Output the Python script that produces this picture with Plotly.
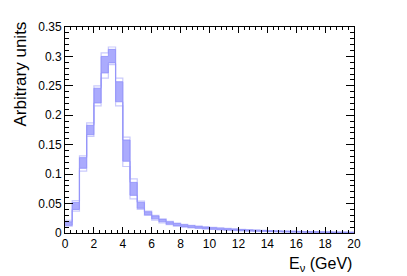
import plotly.graph_objects as go

# bin edges (GeV), 0.5 GeV bins from 0 to 20
bin_lo = [i * 0.5 for i in range(40)]
bin_hi_edge = 20.0

# outer envelope (outlier universes) and dense core of universes, per bin
env_lo = [0.0115, 0.037, 0.105, 0.164, 0.216, 0.263, 0.286, 0.216, 0.113, 0.058,
          0.040, 0.030, 0.022, 0.017, 0.014, 0.0115, 0.0100, 0.0088, 0.0077, 0.0068,
          0.0060, 0.0053, 0.0047, 0.0042, 0.0037, 0.0033, 0.0029, 0.0026, 0.0023, 0.0021,
          0.0018, 0.0016, 0.0014, 0.0013, 0.0011, 0.0010, 0.0009, 0.0008, 0.0007, 0.0006]
core_lo = [0.013, 0.040, 0.110, 0.167, 0.221, 0.272, 0.289, 0.223, 0.122, 0.064,
           0.042, 0.031, 0.024, 0.019, 0.015, 0.0125, 0.0108, 0.0095, 0.0083, 0.0073,
           0.0065, 0.0058, 0.0051, 0.0046, 0.0041, 0.0036, 0.0032, 0.0029, 0.0026, 0.0023,
           0.0020, 0.0018, 0.0016, 0.0014, 0.0013, 0.0011, 0.0010, 0.0009, 0.0008, 0.0007]
core_hi = [0.019, 0.052, 0.128, 0.183, 0.246, 0.300, 0.312, 0.257, 0.158, 0.086,
           0.052, 0.036, 0.029, 0.023, 0.019, 0.016, 0.0140, 0.0125, 0.0112, 0.0100,
           0.0090, 0.0081, 0.0073, 0.0066, 0.0059, 0.0053, 0.0048, 0.0043, 0.0039, 0.0035,
           0.0031, 0.0028, 0.0025, 0.0023, 0.0021, 0.0019, 0.0017, 0.0015, 0.0014, 0.0012]
env_hi = [0.0217, 0.055, 0.131, 0.187, 0.250, 0.306, 0.316, 0.263, 0.163, 0.092,
          0.054, 0.037, 0.030, 0.024, 0.020, 0.017, 0.0148, 0.0132, 0.0118, 0.0106,
          0.0095, 0.0086, 0.0078, 0.0070, 0.0063, 0.0057, 0.0051, 0.0046, 0.0042, 0.0038,
          0.0034, 0.0031, 0.0028, 0.0025, 0.0023, 0.0021, 0.0019, 0.0017, 0.0015, 0.0014]

x_ticks = [0, 2, 4, 6, 8, 10, 12, 14, 16, 18, 20]
y_ticks = [0, 0.05, 0.1, 0.15, 0.2, 0.25, 0.3, 0.35]
y_ticktext = ["0", "0.05", "0.1", "0.15", "0.2", "0.25", "0.3", "0.35"]


def steps(vals):
    return bin_lo + [bin_hi_edge], list(vals) + [vals[-1]]


fig = go.Figure()
xs, ys = steps(core_lo)
fig.add_trace(go.Scatter(x=xs, y=ys, mode="lines", line=dict(shape="hv", width=1, color="rgba(145,145,250,0.85)"),
                         hoverinfo="skip", showlegend=False))
xs, ys = steps(core_hi)
fig.add_trace(go.Scatter(x=xs, y=ys, mode="lines", line=dict(shape="hv", width=1, color="rgba(145,145,250,0.85)"),
                         fill="tonexty", fillcolor="rgba(150,150,252,0.8)", hoverinfo="skip", showlegend=False))
for env in (env_lo, env_hi):
    xs, ys = steps(env)
    fig.add_trace(go.Scatter(x=xs, y=ys, mode="lines", line=dict(shape="hv", width=1.2, color="rgba(150,150,250,0.5)"),
                             hoverinfo="skip", showlegend=False))

font = "Liberation Sans, Arial, sans-serif"
fig.update_layout(
    width=407, height=276,
    margin=dict(l=65, r=53, t=27, b=42.5),
    paper_bgcolor="white", plot_bgcolor="white",
    font=dict(family=font, size=12, color="black"),
    showlegend=False,
    xaxis=dict(range=[0, 20], tickvals=x_ticks, ticks="inside", ticklen=6, tickcolor="black",
               showline=True, linecolor="black", linewidth=1, mirror="ticks", showgrid=False, zeroline=False,
               minor=dict(dtick=0.4, ticks="inside", ticklen=3, tickcolor="black"),
               tickfont=dict(size=12)),
    yaxis=dict(range=[0, 0.35], tickvals=y_ticks, ticktext=y_ticktext, ticks="inside", ticklen=8, tickcolor="black",
               showline=True, linecolor="black", linewidth=1, mirror="ticks", showgrid=False, zeroline=False,
               minor=dict(dtick=0.01, ticks="inside", ticklen=4, tickcolor="black"),
               tickfont=dict(size=12)),
    annotations=[
        dict(text="Arbitrary units", xref="paper", yref="paper", x=-0.155, y=1.035, xanchor="center", yanchor="top",
             textangle=-90, showarrow=False, font=dict(size=17, family=font)),
        dict(text="E<sub>ν</sub> (GeV)", xref="paper", yref="paper", x=1.0, y=-0.155, xanchor="right", yanchor="middle",
             showarrow=False, font=dict(size=16, family=font)),
    ],
)

fig.write_html("out.html", config={"displayModeBar": False},
               post_script="document.body.style.margin='0';document.body.style.overflow='hidden';")
